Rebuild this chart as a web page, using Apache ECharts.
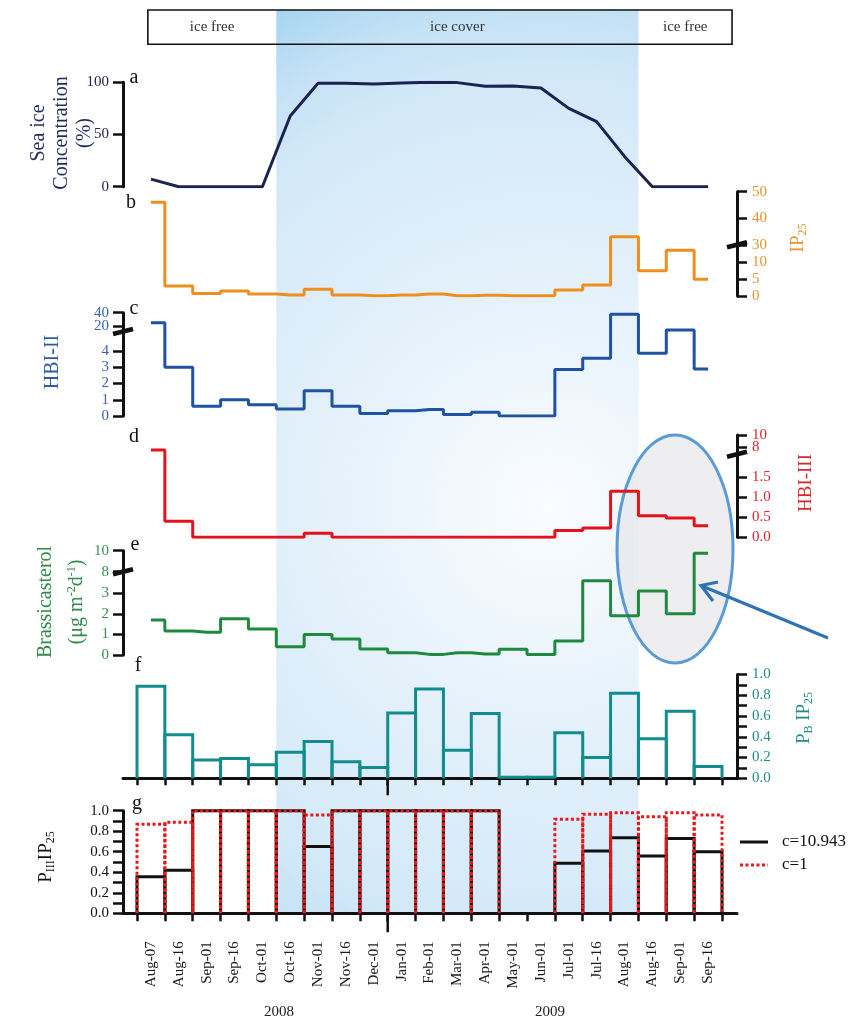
<!DOCTYPE html>
<html><head><meta charset="utf-8">
<script src="https://cdn.jsdelivr.net/npm/echarts@6/dist/echarts.min.js"></script>
<style>html,body{margin:0;padding:0;background:#fff}#c{width:852px;height:1019px}</style>
</head><body><div id="c"></div>
<script>
// ---------------- data ----------------
const categories = ['Aug-07','Aug-16','Sep-01','Sep-16','Oct-01','Oct-16','Nov-01','Nov-16','Dec-01','Jan-01','Feb-01','Mar-01','Apr-01','May-01','Jun-01','Jul-01','Jul-16','Aug-01','Aug-16','Sep-01','Sep-16'];
const yearLabels = ['2008','2009'];
const headerLabels = ['ice free','ice cover','ice free'];
const headerEdges = [-0.11, 4.5, 17.5, 20.86];
const iceCoverSpan = [4.5, 17.5];
const seaIce = [7.3,0,0,0,0,67.7,99,99,98.4,99.4,100,99.7,96.2,96.5,94.6,75,62.3,29,0,0,0];
const ip25   = [46,2.9,0.7,1.5,0.6,0.3,2.0,0.3,0.1,0.3,0.6,0.1,0.2,0.1,0.1,1.75,3.2,33,7.4,13.4,4.9];
const hbi2   = [25,3.0,0.6,1.0,0.7,0.43,1.55,0.6,0.16,0.33,0.4,0.1,0.23,0,0,2.87,3.55,37.5,3.86,14,2.9];
const hbi3   = [7.5,0.4,0,0,0,0,0.1,0,0,0,0,0,0,0,0,0.17,0.23,1.15,0.54,0.48,0.29];
const brass  = [1.7,1.16,1.1,1.76,1.26,0.4,1.0,0.78,0.29,0.11,0.03,0.11,0.05,0.28,0.03,0.68,3.6,1.9,3.1,2.0,9.75];
const pbip25 = [0.887,0.42,0.177,0.19,0.13,0.25,0.355,0.16,0.105,0.63,0.86,0.27,0.625,0.01,0.01,0.44,0.2,0.82,0.38,0.645,0.113];
const piiiC10943 = [0.357,0.42,1,1,1,1,0.65,1,1,1,1,1,1,null,null,0.487,0.607,0.737,0.558,0.73,0.60];
const piiiC1     = [0.867,0.887,1,1,1,1,0.958,1,1,1,1,1,1,null,null,0.916,0.965,0.98,0.94,0.98,0.958];
const ticksA = [0,50,100],            labelsA = ['0','50','100'];
const ticksB = [0,5,10,30,40,50],     labelsB = ['0','5','10','30','40','50'];
const ticksC = [0,1,2,3,4,20,40],     labelsC = ['0','1','2','3','4','20','40'];
const ticksD = [0,0.5,1,1.5,8,10],    labelsD = ['0.0','0.5','1.0','1.5','8','10'];
const ticksE = [0,1,2,3,8,10],        labelsE = ['0','1','2','3','8','10'];
const ticksFine = [0,0.1,0.2,0.3,0.4,0.5,0.6,0.7,0.8,0.9,1.0];
const ticksFrac = [0,0.2,0.4,0.6,0.8,1.0], labelsFrac = ['0.0','0.2','0.4','0.6','0.8','1.0'];

// ---------------- layout / styles ----------------
const FONT = "'Liberation Serif','Times New Roman',serif";
const X_MIN = -1.0026, X_MAX = 21.038;
const GL = 123, GW = 614;
// broken-axis transforms (value -> display units)
const tA = v => v;
const tB = v => v <= 15 ? v : 15 + (v - 30) * 0.778;
const tC = v => v <= 5 ? v : 5.54 + (v - 20) * 0.041;
const tD = v => v <= 2.1 ? v : 2.2575 + (v - 8) * 0.15;
const tE = v => v <= 4 ? v : 4.04 + (v - 8) * 0.51;
const tI = v => v;

const grids = [
  {left:GL, width:GW, top:10, height:903.3},    // 0 background
  {left:GL, width:GW, top:82.3, height:104.4},  // 1 a
  {left:GL, width:GW, top:191.7, height:104.3}, // 2 b
  {left:GL, width:GW, top:312.7, height:103.3}, // 3 c
  {left:GL, width:GW, top:435, height:102.3},   // 4 d
  {left:GL, width:GW, top:550.7, height:104.3}, // 5 e
  {left:GL, width:GW, top:674.5, height:103.8}, // 6 f
  {left:GL, width:GW, top:810.7, height:102.6}, // 7 g
  {left:GL, width:GW, top:10, height:34.3}      // 8 header
].map(g => Object.assign({outerBoundsMode:'none', containLabel:false}, g));

const boundaries = categories.map((_, i) => i - 0.5).concat([categories.length - 0.5]);
const catIdx = categories.map((_, i) => i);
const yearBoundary = categories.indexOf('Jan-01') - 0.5;

function xAx(gi, extra) {
  return Object.assign({type:'value', gridIndex:gi, min:X_MIN, max:X_MAX, show:false,
    splitLine:{show:false}}, extra || {});
}
function yAxHidden(gi) {
  return {type:'value', gridIndex:gi, min:0, max:1, show:false, splitLine:{show:false}};
}
// omit: label indices drawn by an overlay axis instead (avoids overlap-hiding of close labels)
function yAx(gi, pos, tf, ticks, labels, color, tickVals, omit, overlayOnly) {
  const tv = (tickVals || ticks).map(tf);
  const all = ticks.map(tf);
  const keep = all.map((v, k) => k).filter(k => overlayOnly ? (omit || []).includes(k) : !(omit || []).includes(k));
  const lv = keep.map(k => all[k]);
  return {
    type:'value', gridIndex:gi, position:pos, min:0, max:tf(ticks[ticks.length-1]),
    splitLine:{show:false},
    axisLine:{show:!overlayOnly, onZero:false, lineStyle:{color:'#111', width:3}},
    axisTick:{show:!overlayOnly, length:10, customValues:tv, lineStyle:{color:'#111', width:2.5}},
    axisLabel:{show:true, customValues:lv, margin: pos === 'left' ? 14 : 15,
      showMinLabel:true, showMaxLabel:true,
      color, fontSize:15, fontFamily:FONT,
      formatter: v => { const k = all.findIndex(t => Math.abs(t - v) < 1e-6); return k >= 0 ? labels[k] : ''; }}
  };
}

const xAxes = [
  xAx(0), xAx(1), xAx(2), xAx(3), xAx(4), xAx(5),
  xAx(6, {show:true,
    axisLine:{show:true, onZero:false, lineStyle:{color:'#111', width:3}},
    axisTick:{show:true, length:7, customValues:boundaries, lineStyle:{color:'#111', width:2.5}},
    axisLabel:{show:false}}),
  xAx(7, {show:true,
    axisLine:{show:true, onZero:false, lineStyle:{color:'#111', width:3}},
    axisTick:{show:true, length:8, customValues:boundaries, lineStyle:{color:'#111', width:2.5}},
    axisLabel:{show:true, customValues:catIdx, rotate:90, margin:28, fontSize:15, fontFamily:FONT, color:'#1a1a1a',
      showMinLabel:true, showMaxLabel:true,
      formatter: v => categories[Math.round(v)] || ''}}),
  xAx(8)
];
const yAxes = [
  yAxHidden(0),
  yAx(1, 'left',  tA, ticksA, labelsA, '#22264a'),
  yAx(2, 'right', tB, ticksB, labelsB, '#e8922a'),
  yAx(3, 'left',  tC, ticksC, labelsC, '#3a64ad', null, [5]),
  yAx(4, 'right', tD, ticksD, labelsD, '#d9262c', null, [4]),
  yAx(5, 'left',  tE, ticksE, labelsE, '#3a8f55'),
  yAx(6, 'right', tI, ticksFrac, labelsFrac, '#1f8c8a', ticksFine),
  yAx(7, 'left',  tI, ticksFrac, labelsFrac, '#111', ticksFine),
  yAxHidden(8),
  yAx(3, 'left',  tC, ticksC, labelsC, '#3a64ad', null, [5], true),
  yAx(4, 'right', tD, ticksD, labelsD, '#d9262c', null, [4], true)
];

function stepSeries(gi, arr, tf, color, step) {
  return {type:'line', xAxisIndex:gi, yAxisIndex:gi, step: step ? 'middle' : false,
    symbol:'none', silent:true, z:3,
    lineStyle:{color, width:3}, data: arr.map((v, i) => [i, tf(v)])};
}
function barSeries(gi, arr, stroke, dash, z) {
  return {type:'custom', xAxisIndex:gi, yAxisIndex:gi, silent:true, z,
    data: arr.map((v, i) => [i, v]).filter(d => d[1] != null),
    renderItem:(params, api) => {
      const i = api.value(0), v = api.value(1);
      const p0 = api.coord([i - 0.5, 0]), p1 = api.coord([i + 0.5, v]);
      return {type:'polyline', shape:{points:[[p0[0],p0[1]],[p0[0],p1[1]],[p1[0],p1[1]],[p1[0],p0[1]]]},
        style:{stroke, lineWidth:3, fill:'none', lineDash: dash || null}};
    }};
}
function breakSeries(gi, d, side) {
  return {type:'custom', xAxisIndex:gi, yAxisIndex:gi, silent:true, z:6,
    data:[[side === 'left' ? X_MIN : X_MAX, d]],
    renderItem:(params, api) => {
      const p = api.coord([api.value(0), api.value(1)]);
      return {type:'line', shape:{x1:p[0]-10, y1:p[1]+2.5, x2:p[0]+10, y2:p[1]-2.5},
        style:{stroke:'#111', lineWidth:4.5}};
    }};
}
function yearTick(gi, len) {
  return {type:'custom', xAxisIndex:gi, yAxisIndex:gi, silent:true, z:6,
    data:[[yearBoundary, 0]],
    renderItem:(params, api) => {
      const p = api.coord([api.value(0), api.value(1)]);
      return {type:'line', shape:{x1:p[0], y1:p[1], x2:p[0], y2:p[1]+len},
        style:{stroke:'#111', lineWidth:2.5}};
    }};
}

const series = [
  // blue ice-cover shading
  {type:'custom', xAxisIndex:0, yAxisIndex:0, silent:true, z:-1, data:[iceCoverSpan],
    renderItem:(params, api) => {
      const a = api.coord([api.value(0), 1]), b = api.coord([api.value(1), 0]);
      return {type:'rect', shape:{x:a[0], y:a[1], width:b[0]-a[0], height:b[1]-a[1]},
        style:{fill: new echarts.graphic.RadialGradient(0.75, 0.55, 1.66, [
          {offset:0, color:'#fafcff'}, {offset:0.45, color:'#e0effa'}, {offset:0.7, color:'#d3e9f8'},
          {offset:0.82, color:'#c5e2f5'}, {offset:0.95, color:'#a4d4f1'}, {offset:1, color:'#9cd0f0'}])}};
    }},
  // header box
  {type:'custom', xAxisIndex:8, yAxisIndex:8, silent:true, z:4,
    data:[[headerEdges[0], headerEdges[headerEdges.length-1]]],
    renderItem:(params, api) => {
      const a = api.coord([api.value(0), 1]), b = api.coord([api.value(1), 0]);
      return {type:'rect', shape:{x:a[0], y:a[1], width:b[0]-a[0], height:b[1]-a[1]},
        style:{stroke:'#111', lineWidth:1.6, fill:'none'}};
    }},
  {type:'custom', xAxisIndex:8, yAxisIndex:8, silent:true, z:4,
    data: headerLabels.map((_, k) => [(headerEdges[k] + headerEdges[k+1]) / 2, 0.5]),
    renderItem:(params, api) => {
      const p = api.coord([api.value(0), api.value(1)]);
      return {type:'text', x:p[0], y:p[1], style:{text: headerLabels[params.dataIndex], fill:'#333',
        font:'15px ' + FONT, textAlign:'center', textVerticalAlign:'middle', align:'center', verticalAlign:'middle'}};
    }},
  stepSeries(1, seaIce, tA, '#1b2350', false),
  stepSeries(2, ip25, tB, '#ee8f1d', true),
  stepSeries(3, hbi2, tC, '#1f52a0', true),
  stepSeries(4, hbi3, tD, '#e3121b', true),
  stepSeries(5, brass, tE, '#1f8a3d', true),
  barSeries(6, pbip25, '#128c8c', null, 3),
  barSeries(7, piiiC10943, '#111', null, 3),
  barSeries(7, piiiC1, '#e31a1c', [3, 2.5], 4),
  breakSeries(2, tB(30), 'right'),
  breakSeries(3, 5.2, 'left'),
  breakSeries(4, 2.075, 'right'),
  breakSeries(5, tE(8), 'left'),
  yearTick(6, 17),
  yearTick(7, 19)
];

function txt(x, y, text, size, color, extra) {
  return Object.assign({type:'text', x, y, z:20, silent:true,
    style:Object.assign({text, fill:color, font: size + 'px ' + FONT,
      textAlign:'center', textVerticalAlign:'middle', align:'center', verticalAlign:'middle'}, (extra && extra.style) || {})},
    (extra && extra.el) || {});
}
function richTitle(x, y, text, color, size, lh) {
  return {type:'text', x, y, rotation: Math.PI / 2, z:20, silent:true,
    style:{text, fill:color, font: size + 'px ' + FONT, textAlign:'center', textVerticalAlign:'middle',
      align:'center', verticalAlign:'middle',
      rich:{
        n:{fontSize:size, fontFamily:FONT, fill:color, lineHeight:lh || size + 4},
        s:{fontSize:12, fontFamily:FONT, fill:color, padding:[10,0,0,0]},
        p:{fontSize:12, fontFamily:FONT, fill:color, padding:[0,0,10,0]}
      }}};
}

const graphics = [
  // y-axis titles
  {type:'text', x:62, y:133, rotation:Math.PI/2, z:20, silent:true,
    style:{text:'Sea ice\nConcentration\n(%)', fill:'#1f2a5e', font:'20px ' + FONT, lineHeight:23,
      textAlign:'center', textVerticalAlign:'middle', align:'center', verticalAlign:'middle'}},
  richTitle(798, 238, '{n|IP}{s|25}', '#e8922a', 19),
  richTitle(52.5, 362, '{n|HBI-II}', '#2f5aa8', 20),
  richTitle(806, 483, '{n|HBI-III}', '#d9262c', 19),
  richTitle(61.5, 602, '{n|Brassicasterol}\n{n|(μg m}{p|-2}{n|d}{p|-1}{n|)}', '#2e8b4a', 20, 31),
  richTitle(804, 718, '{n|P}{s|B}{n| IP}{s|25}', '#1f8c8a', 19),
  richTitle(46, 857, '{n|P}{s|III}{n|IP}{s|25}', '#111', 19),
  // panel letters
  txt(134, 78, 'a', 20, '#111'),
  txt(131, 203, 'b', 20, '#111'),
  txt(134, 309, 'c', 20, '#111'),
  txt(134, 437, 'd', 20, '#111'),
  txt(135, 545, 'e', 20, '#111'),
  txt(138, 666, 'f', 20, '#111'),
  txt(137, 804, 'g', 20, '#111'),
  // years
  txt(279, 1012, yearLabels[0], 15, '#222'),
  txt(550, 1012, yearLabels[1], 15, '#222'),
  // legend
  {type:'line', z:20, silent:true, shape:{x1:740, y1:842, x2:768, y2:842}, style:{stroke:'#111', lineWidth:3}},
  txt(782, 842, 'c=10.943', 17, '#111', {style:{textAlign:'left', align:'left'}}),
  {type:'line', z:20, silent:true, shape:{x1:740, y1:865, x2:768, y2:865}, style:{stroke:'#e31a1c', lineWidth:3, lineDash:[3,2.5]}},
  txt(782, 865, 'c=1', 17, '#111', {style:{textAlign:'left', align:'left'}}),
  // highlight ellipse and arrow
  {type:'ellipse', z:1, silent:true, shape:{cx:675, cy:549, rx:58, ry:114},
    style:{fill:'rgba(228,228,231,0.62)', stroke:'#5b9bd5', lineWidth:3}},
  {type:'line', z:21, silent:true, shape:{x1:828, y1:638, x2:702, y2:586}, style:{stroke:'#2e74b5', lineWidth:3.2}},
  {type:'polyline', z:21, silent:true, shape:{points:[[718,582],[701,585.5],[713,601]]},
    style:{stroke:'#2e74b5', lineWidth:3.2, fill:'none'}}
];

const chart = echarts.init(document.getElementById('c'), null, {renderer:'canvas'});
chart.setOption({
  animation:false,
  backgroundColor:'#ffffff',
  textStyle:{fontFamily:FONT},
  grid:grids,
  xAxis:xAxes,
  yAxis:yAxes,
  series,
  graphic:graphics
});
</script>
</body></html>
